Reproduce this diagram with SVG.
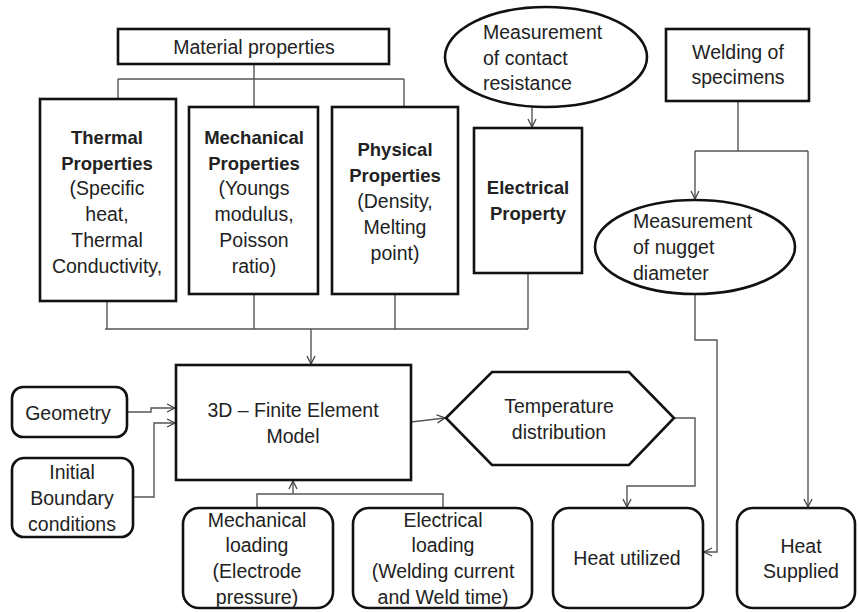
<svg xmlns="http://www.w3.org/2000/svg" width="858" height="612" viewBox="0 0 858 612">
<defs>
<marker id="arr" markerUnits="userSpaceOnUse" markerWidth="12" markerHeight="12" refX="9" refY="5" orient="auto">
<path d="M1,1 L9,5 L1,9" fill="none" stroke="#444" stroke-width="1.3"/>
</marker>
</defs>
<style>
.box{fill:#fff;stroke:#111;stroke-width:2.6}
.c{fill:none;stroke:#555;stroke-width:1.4}
text{font-family:"Liberation Sans",Arial,sans-serif;font-size:19.5px;fill:#222;text-anchor:middle}
.b{font-weight:bold;font-size:18.5px}
.l{text-anchor:start}
</style>
<rect width="858" height="612" fill="#fff"/>
<g id="connectors">
<path class="c" d="M254,64 V79 M118,79 H404 M118,79 V99 M254,79 V107 M404,79 V107"/>
<path class="c" d="M105,329 H528 M107,301 V329 M254,294 V329 M395,294 V329 M528,273 V329"/>
<path class="c" d="M311,329 V364" marker-end="url(#arr)"/>
<path class="c" d="M532,107 V127" marker-end="url(#arr)"/>
<path class="c" d="M738,101 V151 M695,151 H808"/>
<path class="c" d="M695,151 V199" marker-end="url(#arr)"/>
<path class="c" d="M808,151 V507" marker-end="url(#arr)"/>
<path class="c" d="M695,293 V340 H717 V552 H704" marker-end="url(#arr)"/>
<path class="c" d="M127,412 H151 V408 H175" marker-end="url(#arr)"/>
<path class="c" d="M133,497 H154 V423 H175" marker-end="url(#arr)"/>
<path class="c" d="M257,508 V494 H443 V508"/>
<path class="c" d="M293,494 V481" marker-end="url(#arr)"/>
<path class="c" d="M411,422 L445,418" marker-end="url(#arr)"/>
<path class="c" d="M674,418 H695 V486 H627 V507" marker-end="url(#arr)"/>
</g>
<g id="material">
<rect class="box" x="118" y="29" width="271" height="35"/>
<text x="254" y="54">Material properties</text>
</g>
<g id="thermal">
<rect class="box" x="40" y="99" width="136" height="202" stroke-width="3"/>
<text class="b" x="107" y="144">Thermal</text>
<text class="b" x="107" y="170">Properties</text>
<text x="107" y="195">(Specific</text>
<text x="107" y="221">heat,</text>
<text x="107" y="247">Thermal</text>
<text x="107" y="273">Conductivity,</text>
</g>
<g id="mechanical">
<rect class="box" x="189" y="107" width="129" height="187"/>
<text class="b" x="254" y="144">Mechanical</text>
<text class="b" x="254" y="170">Properties</text>
<text x="254" y="195">(Youngs</text>
<text x="254" y="221">modulus,</text>
<text x="254" y="247">Poisson</text>
<text x="254" y="273">ratio)</text>
</g>
<g id="physical">
<rect class="box" x="332" y="107" width="126" height="187"/>
<text class="b" x="395" y="156">Physical</text>
<text class="b" x="395" y="182">Properties</text>
<text x="395" y="208">(Density,</text>
<text x="395" y="234">Melting</text>
<text x="395" y="260">point)</text>
</g>
<g id="contact">
<ellipse class="box" cx="546" cy="57" rx="101" ry="50"/>
<text class="l" x="483" y="39">Measurement</text>
<text class="l" x="483" y="65">of contact</text>
<text class="l" x="483" y="90">resistance</text>
</g>
<g id="electrical">
<rect class="box" x="474" y="128" width="108" height="145"/>
<text class="b" x="528" y="194">Electrical</text>
<text class="b" x="528" y="220">Property</text>
</g>
<g id="welding">
<rect class="box" x="666" y="29" width="143" height="72"/>
<text x="738" y="59">Welding of</text>
<text x="738" y="84">specimens</text>
</g>
<g id="nugget">
<ellipse class="box" cx="695" cy="247" rx="100" ry="47"/>
<text class="l" x="633" y="228">Measurement</text>
<text class="l" x="633" y="254">of nugget</text>
<text class="l" x="633" y="280">diameter</text>
</g>
<g id="fem">
<rect class="box" x="176" y="365" width="235" height="115" stroke-width="3"/>
<text x="293" y="417">3D – Finite Element</text>
<text x="293" y="443">Model</text>
</g>
<g id="geometry">
<rect class="box" x="12" y="387" width="115" height="50" rx="11"/>
<text x="68" y="420">Geometry</text>
</g>
<g id="initial">
<rect class="box" x="12" y="458" width="121" height="79" rx="12"/>
<text x="72" y="479">Initial</text>
<text x="72" y="505">Boundary</text>
<text x="72" y="531">conditions</text>
</g>
<g id="mechload">
<rect class="box" x="183" y="508" width="150" height="100" rx="16"/>
<text x="257" y="527">Mechanical</text>
<text x="257" y="552">loading</text>
<text x="257" y="578">(Electrode</text>
<text x="257" y="604">pressure)</text>
</g>
<g id="elecload">
<rect class="box" x="353" y="508" width="179" height="100" rx="16"/>
<text x="443" y="527">Electrical</text>
<text x="443" y="552">loading</text>
<text x="443" y="578">(Welding current</text>
<text x="443" y="604">and Weld time)</text>
</g>
<g id="temperature">
<polygon class="box" points="446,418 492,372 629,372 674,418 629,465 492,465"/>
<text x="559" y="413">Temperature</text>
<text x="559" y="439">distribution</text>
</g>
<g id="heatutil">
<rect class="box" x="553" y="508" width="150" height="100" rx="16"/>
<text x="627" y="565">Heat utilized</text>
</g>
<g id="heatsup">
<rect class="box" x="737" y="508" width="118" height="100" rx="16"/>
<text x="801" y="553">Heat</text>
<text x="801" y="578">Supplied</text>
</g>
</svg>
